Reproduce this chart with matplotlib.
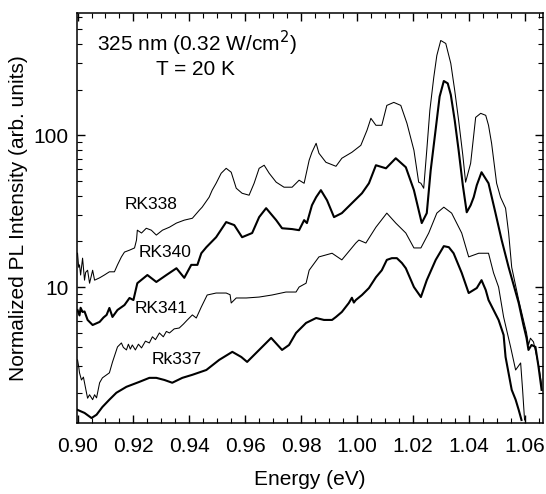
import matplotlib
matplotlib.use("Agg")
import matplotlib.pyplot as plt
from matplotlib.ticker import FixedLocator, LogLocator, MultipleLocator, NullFormatter, FormatStrFormatter

plt.rcParams['font.family'] = ['Liberation Sans', 'DejaVu Sans']

# values
e_338 = [0.9000, 0.9004, 0.9007, 0.9011, 0.9018, 0.9025, 0.9029, 0.9036, 0.9043, 0.9050,
         0.9054, 0.9061, 0.9079, 0.9096,
         0.9114, 0.9132, 0.9143, 0.9157, 0.9168, 0.9186, 0.9204, 0.9211, 0.9214, 0.9229,
         0.9246, 0.9264, 0.9282, 0.9304, 0.9329, 0.9354, 0.9382, 0.9411, 0.9436, 0.9446,
         0.9471, 0.9482, 0.9496, 0.9514, 0.9532, 0.9550, 0.9568, 0.9589, 0.9614, 0.9632,
         0.9650, 0.9668, 0.9686, 0.9711, 0.9739, 0.9768, 0.9786, 0.9793, 0.9811, 0.9829,
         0.9839, 0.9854, 0.9864, 0.9889, 0.9925, 0.9946, 0.9982, 1.0014, 1.0036, 1.0050,
         1.0068, 1.0089, 1.0107, 1.0132, 1.0157, 1.0179, 1.0204, 1.0221, 1.0229, 1.0239,
         1.0250, 1.0261, 1.0275, 1.0286, 1.0300, 1.0318, 1.0336, 1.0350, 1.0364, 1.0379,
         1.0389, 1.0407, 1.0425, 1.0443, 1.0461, 1.0471, 1.0482, 1.0500, 1.0514, 1.0532,
         1.0536, 1.0543, 1.0554, 1.0579, 1.0596, 1.0607, 1.0614, 1.0621, 1.0632, 1.0650,
         1.0661]
i_338 = [16.7, 13.5, 14.0, 12.0, 15.5, 11.1, 12.5, 12.9, 10.6, 12.0,
         12.9, 11.1, 11.5, 12.0,
         12.6, 12.6, 14.0, 15.8, 17.0, 17.5, 18.1, 20.4, 23.7, 22.7,
         24.4, 23.7, 22.0, 23.7, 24.8, 26.4, 27.6, 28.4, 32.1, 33.6,
         39.1, 43.5, 48.3, 56.2, 60.6, 57.1, 44.8, 41.5, 40.3, 48.3,
         60.6, 63.5, 56.2, 49.1, 45.5, 45.5, 49.1, 50.6, 48.3, 68.5,
         77.3, 88.6, 76.2, 66.4, 62.5, 70.6, 77.3, 85.9, 107.9, 129.4,
         116.4, 116.4, 157.4, 164.8, 157.4, 120.0, 79.7, 49.1, 48.3, 44.8,
         79.7, 146.0, 240.7, 336.0, 421.7, 403.0, 297.6, 197.8, 125.6, 73.9,
         49.1, 65.4, 131.3, 139.6, 135.4, 116.4, 88.6, 48.3, 39.1, 33.1,
         28.9, 22.7, 13.5, 8.21, 6.07, 5.0, 4.15, 4.6, 4.35, 3.07,
         2.27]

e_340 = [0.9000, 0.9007, 0.9011, 0.9018, 0.9025, 0.9036, 0.9054, 0.9079, 0.9093, 0.9104,
         0.9114, 0.9125, 0.9143, 0.9168,
         0.9186, 0.9200, 0.9214, 0.9250, 0.9282, 0.9318, 0.9354, 0.9382, 0.9407, 0.9429,
         0.9443, 0.9461, 0.9496, 0.9532, 0.9561, 0.9589, 0.9625, 0.9650, 0.9675, 0.9711,
         0.9732, 0.9768, 0.9793, 0.9811, 0.9821, 0.9839, 0.9854, 0.9871, 0.9893, 0.9918,
         0.9946, 0.9982, 1.0018, 1.0043, 1.0068, 1.0104, 1.0139, 1.0175, 1.0204, 1.0232,
         1.0250, 1.0264, 1.0282, 1.0296, 1.0311, 1.0325, 1.0336, 1.0350, 1.0364, 1.0379,
         1.0393, 1.0407, 1.0418, 1.0429, 1.0446, 1.0471, 1.0496, 1.0518, 1.0543, 1.0561,
         1.0579, 1.0596, 1.0607, 1.0614, 1.0625, 1.0639, 1.0650, 1.0661]
i_340 = [7.06, 6.5, 7.3, 6.85, 6.9, 6.07, 5.62, 5.89, 6.3, 6.55,
         7.28, 6.35, 7.06, 7.61,
         8.47, 8.21, 10.6, 12.0, 10.8, 12.0, 13.3, 11.5, 14.0, 14.0,
         16.7, 18.3, 21.3, 26.8, 25.6, 21.3, 22.7, 28.9, 33.1, 27.6,
         24.4, 24.1, 23.7, 27.6, 26.4, 34.6, 39.1, 43.5, 37.3, 28.9,
         30.7, 35.7, 41.5, 48.3, 63.5, 60.6, 70.6, 61.6, 43.5, 26.4,
         30.7, 58.8, 110.0, 180.0, 228.0, 220.0, 185.0, 125.6, 79.7, 46.9,
         31.1, 34.6, 39.1, 46.9, 57.1, 48.3, 30.7, 20.4, 13.5, 10.3,
         7.85, 5.62, 4.62, 3.85, 4.15, 4.03, 2.98, 2.10]

e_341 = [0.9000, 0.9004, 0.9007, 0.9014, 0.9021, 0.9032, 0.9036, 0.9043, 0.9054, 0.9061,
         0.9068, 0.9079, 0.9089, 0.9114, 0.9125, 0.9143, 0.9157, 0.9164, 0.9175, 0.9182,
         0.9189, 0.9196, 0.9207, 0.9218, 0.9229, 0.9243, 0.9257, 0.9268, 0.9279, 0.9293,
         0.9307, 0.9318, 0.9329, 0.9346, 0.9364, 0.9379, 0.9393, 0.9411, 0.9425, 0.9443,
         0.9464, 0.9496, 0.9532, 0.9546, 0.9550, 0.9568, 0.9604, 0.9650,
         0.9696, 0.9746, 0.9782, 0.9793, 0.9818, 0.9829, 0.9864, 0.9911, 0.9946, 0.9996,
         1.0007, 1.0032, 1.0068, 1.0107, 1.0139, 1.0175, 1.0204, 1.0229, 1.0257, 1.0286,
         1.0311, 1.0339, 1.0375, 1.0400, 1.0436, 1.0471, 1.0489, 1.0507, 1.0525, 1.0550,
         1.0568, 1.0586, 1.0593, 1.0600]
i_341 = [3.31, 3.0, 2.72, 2.44, 2.55, 2.01, 1.85, 1.95, 1.81, 1.95,
         1.86, 2.34, 2.52, 2.72, 3.2, 4.03, 4.28, 4.0, 3.85, 4.2,
         3.9, 4.15, 3.85, 4.2, 3.97, 4.4, 4.28, 4.7, 4.5, 4.98,
         4.7, 5.1, 4.98, 5.3, 5.37, 5.7, 6.07, 6.55, 6.25, 7.39,
         8.86, 9.13, 9.13, 8.9, 7.85, 8.47, 8.47, 8.59,
         8.86, 9.27, 9.27, 10.0, 10.6, 12.9, 15.8, 16.7, 15.1, 19.5,
         20.4, 19.5, 24.8, 30.7, 26.4, 22.7, 18.1, 18.1, 22.7, 30.7,
         33.6, 30.7, 22.7, 15.8, 16.7, 16.7, 12.4, 10.0, 6.35, 4.03,
         2.84, 3.16, 2.10, 1.33]

e_337 = [0.9000, 0.9025, 0.9050, 0.9068, 0.9089, 0.9114, 0.9139, 0.9175, 0.9221, 0.9257,
         0.9282, 0.9311, 0.9339, 0.9375, 0.9411, 0.9461, 0.9507, 0.9554, 0.9586, 0.9607,
         0.9650, 0.9693, 0.9732, 0.9757, 0.9782, 0.9818, 0.9854, 0.9882, 0.9911, 0.9925,
         0.9946, 0.9971, 0.9982, 0.9989, 0.9996, 1.0018, 1.0043, 1.0068, 1.0089, 1.0107,
         1.0125, 1.0143, 1.0161, 1.0175, 1.0204, 1.0229, 1.0250, 1.0282, 1.0311, 1.0329,
         1.0346, 1.0375, 1.0400, 1.0429, 1.0446, 1.0461, 1.0471, 1.0507, 1.0525, 1.0532,
         1.0554, 1.0568, 1.0579, 1.0589]
i_337 = [1.55, 1.48, 1.37, 1.44, 1.62, 1.81, 2.01, 2.20, 2.37, 2.52,
         2.52, 2.44, 2.34, 2.52, 2.64, 2.84, 3.31, 3.74, 3.46, 3.21,
         3.85, 4.62, 3.85, 4.15, 4.98, 5.80, 6.25, 6.07, 6.07, 6.35,
         6.85, 7.85, 8.5, 7.9, 8.21, 8.86, 9.85, 11.6, 12.9, 15.1,
         15.5, 15.5, 14.4, 13.3, 10.0, 8.59, 11.1, 15.1, 18.6, 18.3,
         16.7, 12.4, 9.13, 9.85, 11.1, 9.56, 8.21, 6.07, 4.83, 3.46,
         2.10, 1.81, 1.55, 1.33]

fig = plt.figure(figsize=(5.46, 4.94), dpi=100)
ax = fig.add_axes([0.141, 0.1437, 0.8535, 0.83])

ax.plot(e_338, i_338, color='black', lw=0.75)
ax.plot(e_340, i_340, color='black', lw=1.5)
ax.plot(e_341, i_341, color='black', lw=0.75)
ax.plot(e_337, i_337, color='black', lw=1.5)

ax.set_yscale('log')
ax.set_xlim(0.8998, 1.0666)
ax.set_ylim(1.27, 640)

ax.xaxis.set_major_locator(MultipleLocator(0.02))
ax.xaxis.set_minor_locator(MultipleLocator(0.005))
ax.xaxis.set_major_formatter(FormatStrFormatter('%.2f'))
ax.yaxis.set_major_locator(FixedLocator([10, 100]))
ax.yaxis.set_minor_locator(LogLocator(base=10, subs=range(2, 10)))
ax.yaxis.set_minor_formatter(NullFormatter())
ax.set_yticklabels(['10', '100'])

for s in ax.spines.values():
    s.set_linewidth(1.1)
ax.tick_params(which='both', direction='in', top=True, right=True, labelsize=15)
ax.tick_params(which='major', length=6, width=1)
ax.tick_params(which='minor', length=3.5, width=0.8)
ax.tick_params(axis='x', pad=10)
ax.tick_params(axis='y', pad=6)

ax.set_xlabel('Energy (eV)', fontsize=15, labelpad=10)
ax.set_ylabel('Normalized PL Intensity (arb. units)', fontsize=15, labelpad=4)

ax.text(0.258, 0.927, '325 nm (0.32 W/cm$^2$)', transform=ax.transAxes,
        ha='center', va='center', fontsize=15)
ax.text(0.254, 0.861, 'T = 20 K', transform=ax.transAxes,
        ha='center', va='center', fontsize=15)

ax.text(0.160, 0.532, 'RK338', transform=ax.transAxes, ha='center', va='center', fontsize=12.5)
ax.text(0.190, 0.417, 'RK340', transform=ax.transAxes, ha='center', va='center', fontsize=12.5)
ax.text(0.180, 0.280, 'RK341', transform=ax.transAxes, ha='center', va='center', fontsize=12.5)
ax.text(0.215, 0.154, 'Rk337', transform=ax.transAxes, ha='center', va='center', fontsize=12.5)

fig.savefig('out.png', dpi=100)
